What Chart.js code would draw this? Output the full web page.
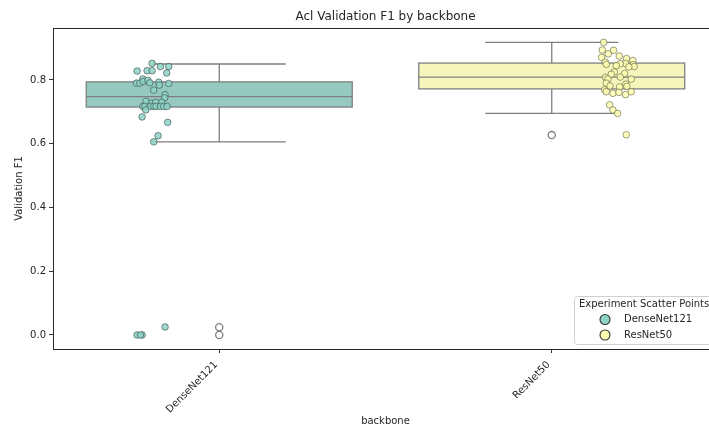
<!DOCTYPE html>
<html>
<head>
<meta charset="utf-8">
<script src="https://cdn.jsdelivr.net/npm/chart.js@4.4.1/dist/chart.umd.min.js"></script>
<style>
  html, body { margin: 0; padding: 0; overflow: hidden; background: #fff; }
  #wrap { width: 771px; height: 427px; }
</style>
</head>
<body>
<div id="wrap"><canvas id="myChart" width="771" height="427"></canvas></div>
<script>
const categories = ['DenseNet121', 'ResNet50'];
const stripColors = ['rgba(141,211,199,0.85)', 'rgba(255,255,179,0.85)'];
const legendColors = ['#8dd3c7', '#ffffb3'];
const boxColors = ['#96cac1', '#f6f6bc'];
const yTicks = [0, 0.2, 0.4, 0.6, 0.8];

// box stats per backbone
const q1 = [0.715, 0.772];
const median = [0.748, 0.809];
const q3 = [0.794, 0.853];
const whiskerLow = [0.606, 0.695];
const whiskerHigh = [0.850, 0.918];

// boxplot fliers
const denseFliers = [0.0, 0.024];
const resFliers = [0.627];

// strip points (value, horizontal offset from category centre)
const denseValues = [0.852, 0.842, 0.842, 0.828, 0.829, 0.829, 0.822, 0.803, 0.790, 0.790,
  0.795, 0.799, 0.791, 0.793, 0.784, 0.789, 0.768, 0.754, 0.744, 0.733,
  0.727, 0.730, 0.730, 0.717, 0.717, 0.717, 0.717, 0.717, 0.717, 0.717,
  0.717, 0.706, 0.684, 0.667, 0.625, 0.606, 0.0, 0.0, 0.0, 0.025];
const denseJitter = [-0.202, -0.177, -0.152, -0.247, -0.217, -0.202, -0.158, -0.230, -0.249, -0.239,
  -0.229, -0.215, -0.209, -0.182, -0.180, -0.152, -0.197, -0.163, -0.164, -0.220,
  -0.204, -0.191, -0.173, -0.230, -0.224, -0.207, -0.197, -0.190, -0.177, -0.167,
  -0.157, -0.221, -0.232, -0.155, -0.184, -0.197, -0.247, -0.232, -0.237, -0.163];

const resValues = [0.918, 0.894, 0.882, 0.893, 0.871, 0.875, 0.867, 0.861, 0.856, 0.849,
  0.852, 0.851, 0.848, 0.842, 0.845, 0.841, 0.825, 0.818, 0.820, 0.808,
  0.803, 0.809, 0.803, 0.790, 0.781, 0.787, 0.780, 0.778, 0.769, 0.763,
  0.758, 0.761, 0.754, 0.763, 0.722, 0.706, 0.695, 0.628];
const resJitter = [0.156, 0.152, 0.170, 0.186, 0.150, 0.203, 0.225, 0.244, 0.161, 0.164,
  0.222, 0.206, 0.245, 0.248, 0.194, 0.232, 0.188, 0.179, 0.219, 0.162,
  0.169, 0.206, 0.239, 0.164, 0.175, 0.223, 0.226, 0.204, 0.159, 0.164,
  0.184, 0.202, 0.222, 0.239, 0.174, 0.184, 0.198, 0.224];

const FONT = 'DejaVu Sans';
const TEXT = '#262626';
const LINE = '#7f7f7f';

function stripData(values, jitter, idx) {
  return values.map((v, i) => ({ x: idx + jitter[i], y: v }));
}
function flierData(values, idx) {
  return values.map(v => ({ x: idx, y: v }));
}

const boxPlugin = {
  id: 'boxes',
  beforeDatasetsDraw(chart) {
    const { ctx, chartArea } = chart;
    const xs = chart.scales.x, ys = chart.scales.y;
    ctx.save();
    ctx.beginPath();
    ctx.rect(chartArea.left, chartArea.top, chartArea.width, chartArea.height);
    ctx.clip();
    ctx.lineWidth = 1.3;
    ctx.strokeStyle = LINE;
    categories.forEach((c, i) => {
      const cx = xs.getPixelForValue(i);
      const l = xs.getPixelForValue(i - 0.4), r = xs.getPixelForValue(i + 0.4);
      const cl = xs.getPixelForValue(i - 0.2), cr = xs.getPixelForValue(i + 0.2);
      const yq1 = ys.getPixelForValue(q1[i]), yq3 = ys.getPixelForValue(q3[i]);
      const ymed = ys.getPixelForValue(median[i]);
      const ylo = ys.getPixelForValue(whiskerLow[i]), yhi = ys.getPixelForValue(whiskerHigh[i]);
      ctx.beginPath();
      ctx.moveTo(cx, yq3); ctx.lineTo(cx, yhi);
      ctx.moveTo(cx, yq1); ctx.lineTo(cx, ylo);
      ctx.moveTo(cl, yhi); ctx.lineTo(cr, yhi);
      ctx.moveTo(cl, ylo); ctx.lineTo(cr, ylo);
      ctx.stroke();
      ctx.fillStyle = boxColors[i];
      ctx.fillRect(l, yq3, r - l, yq1 - yq3);
      ctx.strokeRect(l, yq3, r - l, yq1 - yq3);
      ctx.beginPath();
      ctx.moveTo(l, ymed); ctx.lineTo(r, ymed);
      ctx.stroke();
    });
    ctx.restore();
    // frame
    ctx.save();
    ctx.strokeStyle = '#262626';
    ctx.lineWidth = 1;
    ctx.strokeRect(Math.round(chartArea.left) + 0.5, Math.round(chartArea.top) + 0.5,
      Math.round(chartArea.width), Math.round(chartArea.height));
    ctx.restore();
  },
  afterDraw(chart) {
    const { ctx, chartArea } = chart;
    const bx = chartArea.right - 144, by = chartArea.bottom - 53;
    ctx.save();
    ctx.fillStyle = 'rgba(255,255,255,0.85)';
    ctx.strokeStyle = '#d0d0d0';
    ctx.lineWidth = 1;
    ctx.beginPath();
    ctx.roundRect(bx + 0.5, by + 0.5, 160, 48, 3);
    ctx.fill();
    ctx.stroke();
    ctx.fillStyle = TEXT;
    ctx.font = '10px "' + FONT + '"';
    ctx.textBaseline = 'middle';
    ctx.textAlign = 'left';
    ctx.fillText('Experiment Scatter Points', bx + 5, by + 8.5);
    categories.forEach((c, i) => {
      const my = by + 23.5 + i * 15.5;
      ctx.beginPath();
      ctx.arc(bx + 31, my, 5, 0, Math.PI * 2);
      ctx.fillStyle = legendColors[i];
      ctx.fill();
      ctx.strokeStyle = '#333';
      ctx.lineWidth = 1.1;
      ctx.stroke();
      ctx.fillStyle = TEXT;
      ctx.fillText(c, bx + 50, my);
    });
    ctx.restore();
  }
};

new Chart(document.getElementById('myChart'), {
  type: 'scatter',
  data: {
    datasets: [
      {
        label: categories[0],
        data: stripData(denseValues, denseJitter, 0),
        backgroundColor: stripColors[0],
        borderColor: 'rgba(60,80,75,0.8)',
        borderWidth: 0.8,
        pointRadius: 3.3
      },
      {
        label: categories[1],
        data: stripData(resValues, resJitter, 1),
        backgroundColor: stripColors[1],
        borderColor: 'rgba(100,100,70,0.8)',
        borderWidth: 0.8,
        pointRadius: 3.3
      },
      {
        label: 'fliers',
        data: flierData(denseFliers, 0).concat(flierData(resFliers, 1)),
        backgroundColor: 'rgba(0,0,0,0)',
        borderColor: LINE,
        borderWidth: 1.3,
        pointRadius: 3.6
      }
    ]
  },
  options: {
    responsive: false,
    animation: false,
    devicePixelRatio: 1,
    layout: { padding: 0 },
    plugins: {
      legend: { display: false },
      tooltip: { enabled: false },
      title: {
        display: true,
        text: 'Acl Validation F1 by backbone',
        color: TEXT,
        font: { family: FONT, size: 12, weight: 'normal' },
        padding: { top: 10, bottom: 3.6 }
      }
    },
    scales: {
      x: {
        type: 'linear',
        min: -0.5,
        max: 1.5,
        afterBuildTicks(scale) { scale.ticks = categories.map((c, i) => ({ value: i })); },
        afterFit(scale) { scale.height = 78; },
        ticks: {
          color: TEXT,
          font: { family: FONT, size: 10 },
          minRotation: 45,
          maxRotation: 45,
          padding: 6,
          labelOffset: -3,
          callback: (v) => categories[v]
        },
        grid: { drawOnChartArea: false, drawTicks: true, tickLength: 4, color: '#333' },
        border: { display: false },
        title: {
          display: true,
          text: 'backbone',
          color: TEXT,
          font: { family: FONT, size: 10 },
          padding: { top: 0, bottom: 0 }
        }
      },
      y: {
        type: 'linear',
        position: 'left',
        min: -0.044,
        max: 0.963,
        afterBuildTicks(scale) { scale.ticks = yTicks.map(v => ({ value: v })); },
        afterFit(scale) { scale.width = 53; },
        ticks: {
          color: TEXT,
          font: { family: FONT, size: 10 },
          padding: 3,
          callback: (v) => v.toFixed(1)
        },
        grid: { drawOnChartArea: false, drawTicks: true, tickLength: 4, color: '#333' },
        border: { display: false },
        title: {
          display: true,
          text: 'Validation F1',
          color: TEXT,
          font: { family: FONT, size: 10 },
          padding: { top: 13, bottom: 0 }
        }
      },
      yRight: {
        type: 'linear',
        position: 'right',
        display: true,
        afterFit(scale) { scale.width = 53; },
        ticks: { display: false },
        grid: { display: false, drawTicks: false },
        border: { display: false }
      }
    }
  },
  plugins: [boxPlugin]
});
</script>
</body>
</html>
